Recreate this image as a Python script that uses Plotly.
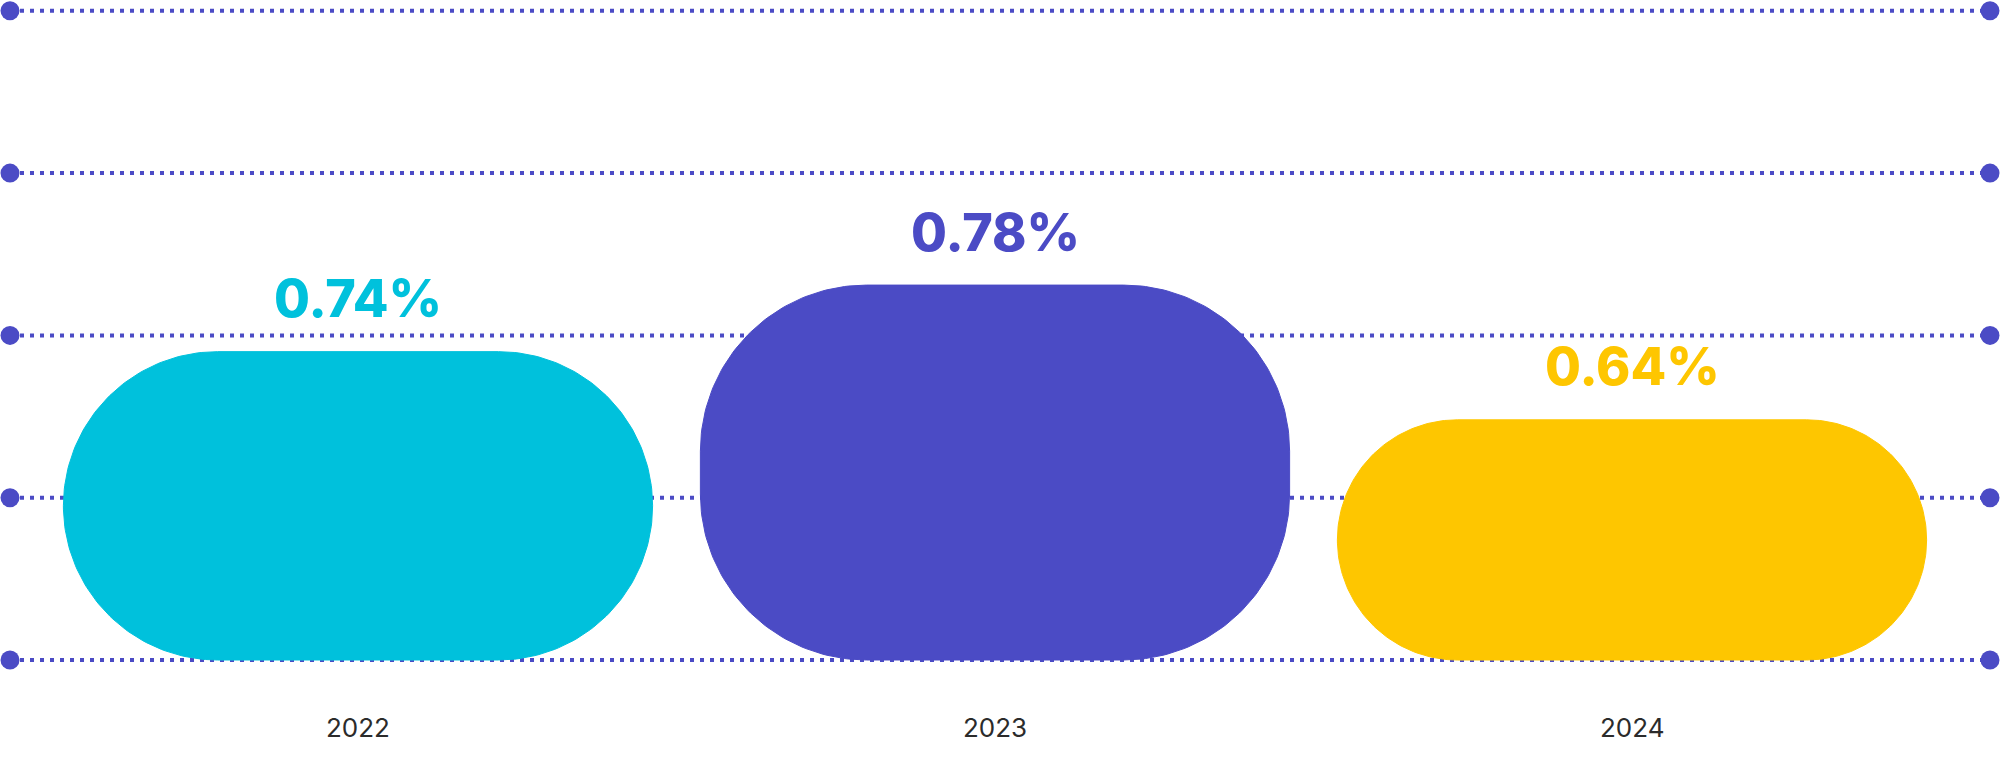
import numpy as np
import plotly.graph_objects as go

# data (bar heights in gridline units)
years = ["2022", "2023", "2024"]
bar_heights = [1.9, 2.31, 1.48]
value_labels = ["0.74%", "0.78%", "0.64%"]
bar_colors = ["#00C1DC", "#4B4BC5", "#FEC600"]
grid_levels = [0, 1, 2, 3, 4]

W, H = 2000, 766
PX_X, PX_Y = 637.0, 162.3
X_RANGE = [-358 / PX_X, -358 / PX_X + W / PX_X]
Y_RANGE = [660 / PX_Y - H / PX_Y, 660 / PX_Y]

GRID_COLOR = "#4B4BC5"
GRID_ENDS = [X_RANGE[0] + 10 / PX_X, X_RANGE[0] + 1990 / PX_X]
BAR_WIDTH = 0.925
MAX_RADIUS_PX = 166


def pill(xc, top, width=BAR_WIDTH, max_r=MAX_RADIUS_PX):
    """Outline of a rounded bar, in data coordinates."""
    h_px = top * PX_Y
    w_px = width * PX_X
    r = min(max_r, h_px / 2, w_px / 2)
    rx, ry = r / PX_X, r / PX_Y
    half = width / 2
    corners = [
        (xc + half - rx, top - ry, 0),
        (xc - half + rx, top - ry, 90),
        (xc - half + rx, ry, 180),
        (xc + half - rx, ry, 270),
    ]
    xs, ys = [], []
    for cx, cy, a0 in corners:
        t = np.radians(np.linspace(a0, a0 + 90, 60))
        xs.extend(cx + rx * np.cos(t))
        ys.extend(cy + ry * np.sin(t))
    xs.append(xs[0])
    ys.append(ys[0])
    return xs, ys


fig = go.Figure()

for g in grid_levels:
    fig.add_trace(go.Scatter(
        x=GRID_ENDS, y=[g, g], mode="lines+markers", cliponaxis=False,
        line=dict(color=GRID_COLOR, width=4, dash="4px,6px"),
        marker=dict(color=GRID_COLOR, size=19),
        hoverinfo="skip",
    ))

for i, (yr, h, c) in enumerate(zip(years, bar_heights, bar_colors)):
    xs, ys = pill(i, h)
    fig.add_trace(go.Scatter(
        x=xs, y=ys, mode="lines", fill="toself", fillcolor=c,
        line=dict(color=c, width=1), name=yr, hoverinfo="skip",
    ))

for i, (yr, h, lab, c) in enumerate(zip(years, bar_heights, value_labels, bar_colors)):
    fig.add_annotation(
        x=i, y=h, text=lab, showarrow=False, yanchor="middle", yshift=53,
        font=dict(family="Inter", size=52, color=c, weight=800),
    )
    fig.add_annotation(
        x=i, y=0, text=yr, showarrow=False, yanchor="middle", yshift=-67,
        font=dict(family="Inter", size=26, color="#2B2B2B"),
    )

fig.update_layout(
    width=W, height=H,
    margin=dict(l=0, r=0, t=0, b=0),
    paper_bgcolor="white", plot_bgcolor="white",
    showlegend=False,
    xaxis=dict(range=X_RANGE, visible=False, fixedrange=True),
    yaxis=dict(range=Y_RANGE, visible=False, fixedrange=True),
)

# drop the default page margin so the figure fills the window exactly
fig.write_html(
    "out.html",
    config={"displayModeBar": False},
    post_script="document.body.style.margin='0';document.body.style.overflow='hidden';",
)
